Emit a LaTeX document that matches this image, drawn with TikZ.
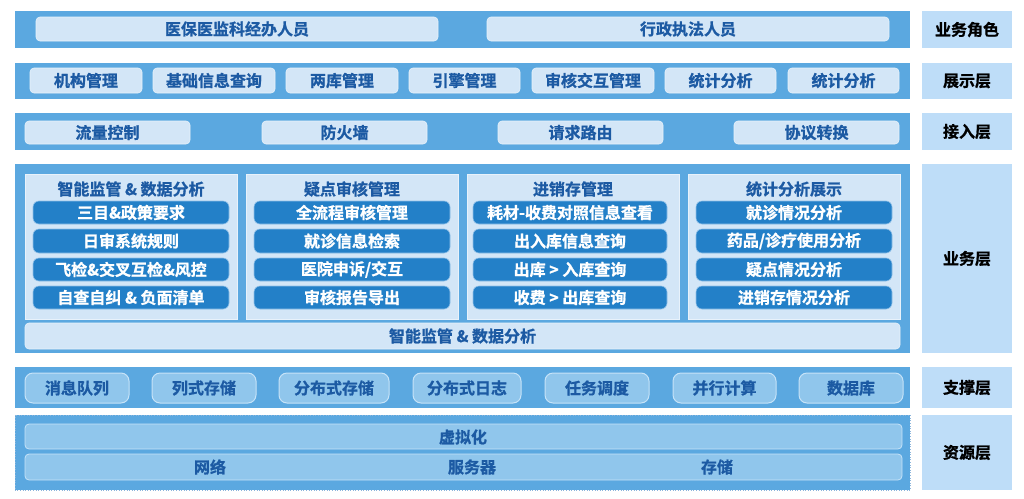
\documentclass[tikz,border=0pt]{standalone}
\usepackage{fontspec}
\setmainfont{Noto Sans CJK SC}[BoldFont={Noto Sans CJK SC Bold}, BoldFeatures={FakeBold=1}]
\definecolor{bandblue}{HTML}{5BA8E0}
\definecolor{lightbox}{HTML}{D3E6F7}
\definecolor{lightedge}{HTML}{E8F2FB}
\definecolor{darkbtn}{HTML}{2380C8}
\definecolor{btnedge}{HTML}{8FC0E8}
\definecolor{txtblue}{HTML}{1C5AA3}
\definecolor{labelfill}{HTML}{BEDDF8}
\definecolor{midbox}{HTML}{90C6EC}
\definecolor{midedge}{HTML}{C6E3F8}
\definecolor{dotedge}{HTML}{8DB6DC}
\newcommand\txtfont{\fontsize{16}{17}\selectfont\bfseries}
\tikzset{
  band/.style={fill=bandblue, draw=none, inner sep=0pt},
  lbox/.style={fill=lightbox, draw=lightedge, line width=0.6pt, rounded corners=4pt, inner sep=0pt, font=\txtfont, text=txtblue},
  panel/.style={fill=lightbox, draw=lightedge, line width=0.6pt, inner sep=0pt},
  ptitle/.style={font=\txtfont, text=txtblue, inner sep=0pt},
  dbtn/.style={fill=darkbtn, draw=btnedge, line width=0.6pt, rounded corners=6pt, inner sep=0pt, font=\txtfont, text=white},
  sbox/.style={fill=midbox, draw=midedge, line width=1pt, rounded corners=8pt, inner sep=0pt, font=\txtfont, text=txtblue},
  rbar/.style={fill=midbox, draw=midedge, line width=0.8pt, rounded corners=4pt, inner sep=0pt},
  rtext/.style={font=\txtfont, text=txtblue, inner sep=0pt},
  layerlabel/.style={fill=labelfill, draw=none, inner sep=0pt, font=\txtfont, text=black},
}
\newcommand\bx[7]{%
  \pgfmathsetmacro\bxw{#5-#3}\pgfmathsetmacro\bxh{#6-#4}%
  \pgfmathsetmacro\bxcx{(#3+#5)/2}\pgfmathsetmacro\bxcy{(#4+#6)/2}%
  \node[#1, minimum width=\bxw pt, minimum height=\bxh pt] (#2) at (\bxcx,\bxcy) {#7};}
\begin{document}
\begin{tikzpicture}[x=1pt, y=-1pt]
\useasboundingbox[fill=white] (0,0) rectangle (1024,498);

% ---- layer labels ----
\bx{layerlabel}{L1}{922}{11}{1012}{48}{业务角色}
\bx{layerlabel}{L2}{922}{63}{1012}{99}{展示层}
\bx{layerlabel}{L3}{922}{113}{1012}{150}{接入层}
\bx{layerlabel}{L4}{922}{164}{1012}{353}{业务层}
\bx{layerlabel}{L5}{922}{367}{1012}{408}{支撑层}
\bx{layerlabel}{L6}{922}{415}{1012}{490}{资源层}

% ---- band 1: roles ----
\bx{band}{B1}{15}{11}{910}{48}{}
\bx{lbox}{r1}{36}{17}{438}{41}{医保医监科经办人员}
\bx{lbox}{r2}{487}{17}{889}{41}{行政执法人员}

% ---- band 2: presentation ----
\bx{band}{B2}{15}{63}{910}{99}{}
\bx{lbox}{p1}{30}{68}{142}{93}{机构管理}
\bx{lbox}{p2}{153}{68}{275}{93}{基础信息查询}
\bx{lbox}{p3}{286}{68}{398}{93}{两库管理}
\bx{lbox}{p4}{409}{68}{520}{93}{引擎管理}
\bx{lbox}{p5}{532}{68}{654}{93}{审核交互管理}
\bx{lbox}{p6}{665}{68}{776}{93}{统计分析}
\bx{lbox}{p7}{788}{68}{899}{93}{统计分析}

% ---- band 3: access ----
\bx{band}{B3}{15}{113}{910}{150}{}
\bx{lbox}{a1}{25}{121}{190}{144}{流量控制}
\bx{lbox}{a2}{262}{121}{427}{144}{防火墙}
\bx{lbox}{a3}{498}{121}{663}{144}{请求路由}
\bx{lbox}{a4}{734}{121}{899}{144}{协议转换}

% ---- band 4: business ----
\bx{band}{B4}{15}{164}{910}{353}{}
\bx{panel}{P1}{25}{174}{237}{319}{}
\bx{panel}{P2}{246}{174}{458}{319}{}
\bx{panel}{P3}{467}{174}{679}{319}{}
\bx{panel}{P4}{688}{174}{900}{319}{}
\node[ptitle] (t1) at (131,189) {智能监管 \& 数据分析};
\node[ptitle] (t2) at (352,189) {疑点审核管理};
\node[ptitle] (t3) at (573,189) {进销存管理};
\node[ptitle] (t4) at (794,189) {统计分析展示};

\bx{dbtn}{b11}{33}{201}{229}{224}{三目\&政策要求}
\bx{dbtn}{b12}{33}{229}{229}{253}{日审系统规则}
\bx{dbtn}{b13}{33}{258}{229}{281}{飞检\&交叉互检\&风控}
\bx{dbtn}{b14}{33}{286}{229}{309}{自查自纠 \& 负面清单}

\bx{dbtn}{b21}{254}{201}{450}{224}{全流程审核管理}
\bx{dbtn}{b22}{254}{229}{450}{253}{就诊信息检索}
\bx{dbtn}{b23}{254}{258}{450}{281}{医院申诉/交互}
\bx{dbtn}{b24}{254}{286}{450}{309}{审核报告导出}

\bx{dbtn}{b31}{473}{201}{667}{224}{耗材-收费对照信息查看}
\bx{dbtn}{b32}{473}{229}{667}{253}{出入库信息查询}
\bx{dbtn}{b33}{473}{258}{667}{281}{出库 > 入库查询}
\bx{dbtn}{b34}{473}{286}{667}{309}{收费 > 出库查询}

\bx{dbtn}{b41}{696}{201}{892}{224}{就诊情况分析}
\bx{dbtn}{b42}{696}{229}{892}{253}{药品/诊疗使用分析}
\bx{dbtn}{b43}{696}{258}{892}{281}{疑点情况分析}
\bx{dbtn}{b44}{696}{286}{892}{309}{进销存情况分析}

\bx{lbox}{bb}{25}{323}{900}{349}{智能监管 \& 数据分析}

% ---- band 5: support ----
\bx{band}{B5}{15}{367}{910}{408}{}
\bx{sbox}{s1}{25}{373}{129}{403}{消息队列}
\bx{sbox}{s2}{152}{373}{256}{403}{列式存储}
\bx{sbox}{s3}{279}{373}{389}{403}{分布式存储}
\bx{sbox}{s4}{413}{373}{521}{403}{分布式日志}
\bx{sbox}{s5}{545}{373}{649}{403}{任务调度}
\bx{sbox}{s6}{673}{373}{776}{403}{并行计算}
\bx{sbox}{s7}{799}{373}{903}{403}{数据库}

% ---- band 6: resources ----
\bx{band}{B6}{15}{415}{910}{490}{}
\draw[dotedge, dotted, line width=0.6pt] (B6.north west) rectangle (B6.south east);
\bx{rbar}{v1}{25}{424}{902}{449}{}
\bx{rbar}{v2}{25}{454}{902}{480}{}
\node[rtext] (virt) at (463,437) {虚拟化};
\node[rtext] (net) at (210,467) {网络};
\node[rtext] (srv) at (472,467) {服务器};
\node[rtext] (sto) at (717,467) {存储};
\end{tikzpicture}
\end{document}
